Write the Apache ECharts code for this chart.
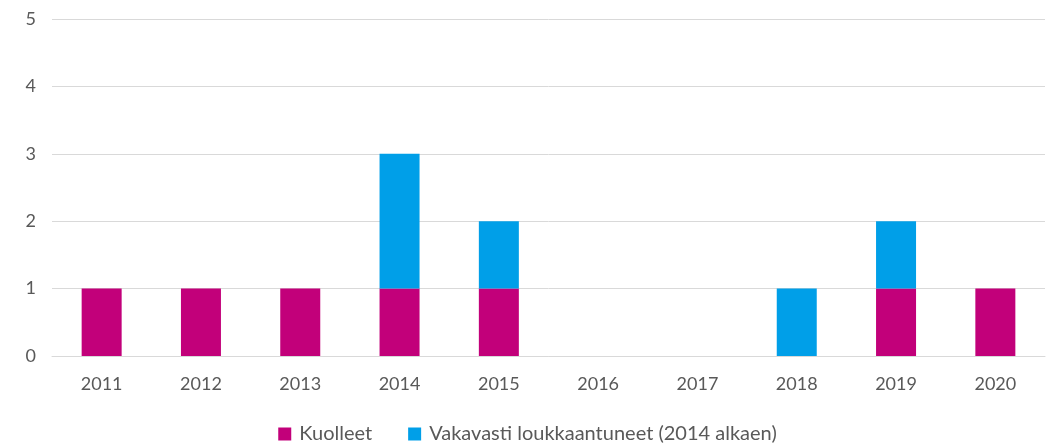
<!DOCTYPE html>
<html>
<head>
<meta charset="utf-8">
<script src="https://cdn.jsdelivr.net/npm/echarts@6/dist/echarts.min.js"></script>
<style>
  html, body { margin: 0; padding: 0; background: #fff; }
  #chart { width: 1055px; height: 447px; }
</style>
</head>
<body>
<div id="chart"></div>
<script>
const years = ['2011', '2012', '2013', '2014', '2015', '2016', '2017', '2018', '2019', '2020'];
const kuolleet = [1, 1, 1, 1, 1, 0, 0, 0, 1, 1];
const vakavasti = [0, 0, 0, 2, 1, 0, 0, 1, 1, 0];

const chart = echarts.init(document.getElementById('chart'));
const font = 'Lato, "Open Sans", sans-serif';
chart.setOption({
  animation: false,
  textStyle: { fontFamily: font },
  grid: { left: 52, right: 10, top: 19, bottom: 91 },
  legend: {
    top: 424,
    left: 'center',
    padding: 0,
    itemWidth: 13,
    itemHeight: 13,
    itemGap: 36,
    icon: 'rect',
    textStyle: { color: '#595959', fontSize: 20, fontFamily: font, padding: [0, 0, 0, 3] },
    data: ['Kuolleet', 'Vakavasti loukkaantuneet (2014 alkaen)'],
  },
  xAxis: {
    type: 'category',
    data: years,
    axisTick: { show: false },
    axisLine: { lineStyle: { color: '#d9d9d9', width: 1 } },
    axisLabel: { color: '#595959', fontSize: 18, margin: 19 },
  },
  yAxis: {
    type: 'value',
    min: 0,
    max: 5,
    interval: 1,
    axisLine: { show: false },
    axisTick: { show: false },
    splitLine: { lineStyle: { color: '#d9d9d9', width: 1 } },
    axisLabel: { color: '#595959', fontSize: 18, margin: 16 },
  },
  series: [
    {
      name: 'Kuolleet',
      type: 'bar',
      stack: 'total',
      barWidth: 40,
      data: kuolleet.map(v => v || null),
      itemStyle: { color: '#C2007A' },
    },
    {
      name: 'Vakavasti loukkaantuneet (2014 alkaen)',
      type: 'bar',
      stack: 'total',
      barWidth: 40,
      data: vakavasti.map(v => v || null),
      itemStyle: { color: '#009FE8' },
    },
  ],
});
</script>
</body>
</html>
